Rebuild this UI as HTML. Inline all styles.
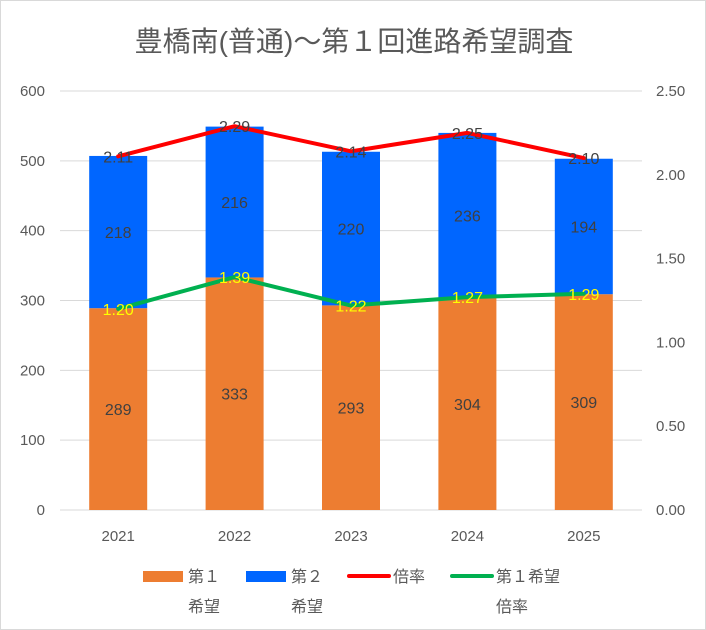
<!DOCTYPE html>
<html><head><meta charset="utf-8"><style>
body{margin:0;background:#fff}
svg{display:block;font-family:"Liberation Sans","Noto Sans CJK JP",sans-serif}
</style></head><body>
<svg id="chart" width="706" height="630">
<rect x="0.5" y="0.5" width="705" height="629" fill="#fff" stroke="#d9d9d9"/>
<text x="354" y="51" text-anchor="middle" font-size="28" fill="#595959">豊橋南(普通)～第１回進路希望調査</text>
<g id="grid"></g><g id="bars"></g><g id="lines"></g><g id="labels"></g>
<g>
<rect x="143" y="571" width="40" height="11" fill="#ED7D31"/>
<text x="188" y="582" font-size="16" fill="#595959">第１</text>
<text x="188" y="612" font-size="16" fill="#595959">希望</text>
<rect x="246" y="571" width="40" height="11" fill="#0066FF"/>
<text x="291" y="582" font-size="16" fill="#595959">第２</text>
<text x="291" y="612" font-size="16" fill="#595959">希望</text>
<line x1="349" y1="576" x2="389" y2="576" stroke="#FF0000" stroke-width="4" stroke-linecap="round"/>
<text x="393" y="582" font-size="16" fill="#595959">倍率</text>
<line x1="452" y1="576" x2="492" y2="576" stroke="#00B050" stroke-width="4" stroke-linecap="round"/>
<text x="496" y="582" font-size="16" fill="#595959">第１希望</text>
<text x="496" y="612" font-size="16" fill="#595959">倍率</text>
</g>
</svg>
<script>
const categories=["2021","2022","2023","2024","2025"];
const first=[289,333,293,304,309];
const second=[218,216,220,236,194];
const ratio=[2.11,2.29,2.14,2.25,2.10];
const firstRatio=[1.20,1.39,1.22,1.27,1.29];
const leftTicks=[0,100,200,300,400,500,600];
const rightTicks=[0,0.5,1,1.5,2,2.5];
const NS="http://www.w3.org/2000/svg";
const x0=60,x1=642,yB=510,yT=91;
const yL=v=>yB-(v/600)*(yB-yT);
const yR=v=>yB-(v/2.5)*(yB-yT);
const step=(x1-x0)/categories.length;
const xc=i=>x0+step*(i+0.5);
const bw=58;
function mk(tag,attrs,parent,txt){const e=document.createElementNS(NS,tag);for(const k in attrs)e.setAttribute(k,attrs[k]);if(txt!==undefined)e.textContent=txt;document.getElementById(parent).appendChild(e);return e;}
leftTicks.forEach(t=>{
 const l=mk('line',{x1:x0,x2:x1,y1:yL(t),y2:yL(t),stroke:'#d9d9d9','stroke-width':1},'grid');
 
 
 const tx=mk('text',{x:45,y:yL(t)+5,'text-anchor':'end','font-size':15,fill:'#595959'},'grid',String(t));
 
 
});
rightTicks.forEach(t=>{
 const tx=mk('text',{x:656,y:yR(t)+5,'font-size':15,fill:'#595959'},'grid',t.toFixed(2));
 
 
});
categories.forEach((c,i)=>{
 const tx=mk('text',{x:xc(i),y:541,'text-anchor':'middle','font-size':15,fill:'#595959'},'grid',c);
 
 
 const b1=mk('rect',{x:xc(i)-bw/2,y:yL(first[i]),width:bw,height:yB-yL(first[i]),fill:'#ED7D31'},'bars');
 
 
 const b2=mk('rect',{x:xc(i)-bw/2,y:yL(first[i]+second[i]),width:bw,height:yL(first[i])-yL(first[i]+second[i]),fill:'#0066FF'},'bars');
 
 
 const l1=mk('text',{x:xc(i),y:(yL(first[i])+yB)/2+6,'text-anchor':'middle','font-size':16,fill:'#404040'},'labels',String(first[i]));
 
 
 const l2=mk('text',{x:xc(i),y:(yL(first[i])+yL(first[i]+second[i]))/2+6,'text-anchor':'middle','font-size':16,fill:'#404040'},'labels',String(second[i]));
 
 
 const l3=mk('text',{x:xc(i),y:yR(ratio[i])+6,'text-anchor':'middle','font-size':16,fill:'#404040'},'labels',ratio[i].toFixed(2));
 
 
 const l4=mk('text',{x:xc(i),y:yR(firstRatio[i])+6,'text-anchor':'middle','font-size':16,fill:'#FFFF00'},'labels',firstRatio[i].toFixed(2));
 
 
});
const pr=mk('polyline',{points:ratio.map((v,i)=>xc(i)+','+yR(v)).join(' '),fill:'none',stroke:'#FF0000','stroke-width':4,'stroke-linejoin':'round','stroke-linecap':'round'},'lines');


const pg=mk('polyline',{points:firstRatio.map((v,i)=>xc(i)+','+yR(v)).join(' '),fill:'none',stroke:'#00B050','stroke-width':4,'stroke-linejoin':'round','stroke-linecap':'round'},'lines');


</script>
</body></html>
